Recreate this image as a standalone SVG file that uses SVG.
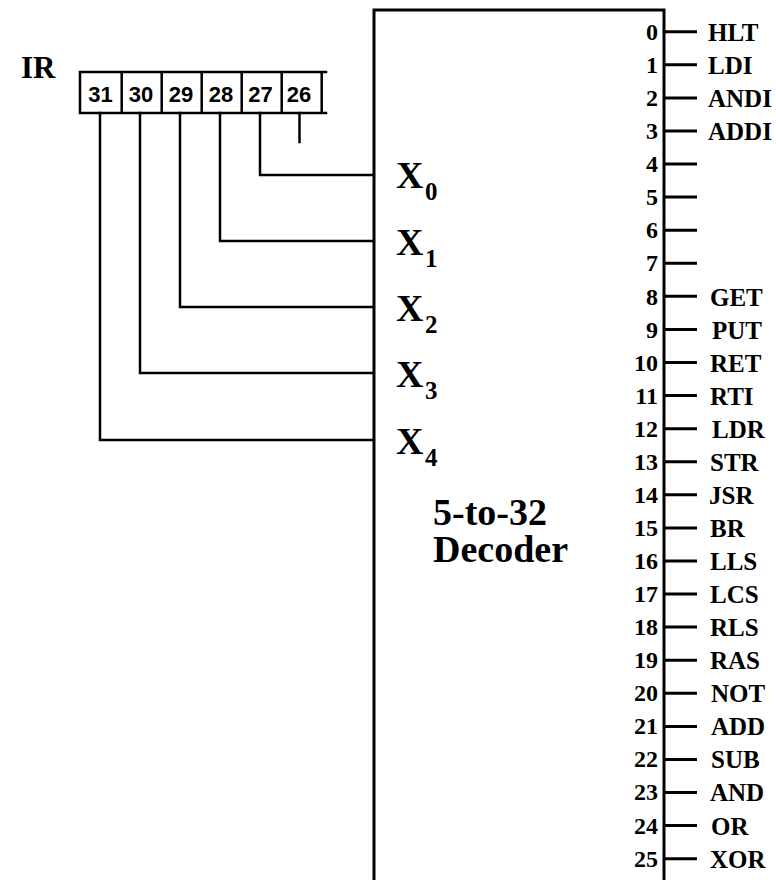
<svg xmlns="http://www.w3.org/2000/svg" width="776" height="880" viewBox="0 0 776 880">
<style>
.serif{font-family:"Liberation Serif","Times New Roman",serif;font-weight:bold;fill:#000}
.sans{font-family:"Liberation Sans",Arial,sans-serif;fill:#000}
.ln{stroke:#000;stroke-width:2.5;fill:none;stroke-linecap:square}
.bx{stroke:#000;stroke-width:3;fill:none}
.tk{stroke:#000;stroke-width:3}
.num{font-size:24px;text-anchor:end}
.lbl{font-size:25px}
.xl{font-size:38px}
.xs{font-size:25px}
.bit{font-size:22px;text-anchor:middle;font-weight:bold}
</style>
<rect width="776" height="880" fill="#fff"/>
<g id="ir">
  <text class="serif" x="21" y="78" font-size="31">IR</text>
  <path class="ln" d="M80,72 H326 M80,113 H326 M80,72 V113 M121.7,72 V113 M161.7,72 V113 M201.7,72 V113 M241.7,72 V113 M281.7,72 V113 M321.7,72 V113" stroke-linecap="butt"/>
  <text class="sans bit" x="100.5" y="101.5">31</text>
  <text class="sans bit" x="141" y="101.5">30</text>
  <text class="sans bit" x="181" y="101.5">29</text>
  <text class="sans bit" x="221" y="101.5">28</text>
  <text class="sans bit" x="260.5" y="101.5">27</text>
  <text class="sans bit" x="299" y="101.5">26</text>
</g>
<g id="connectors">
  <path class="ln" d="M260,113 V175 H373"/>
  <path class="ln" d="M220,113 V241 H373"/>
  <path class="ln" d="M180,113 V307 H373"/>
  <path class="ln" d="M140,113 V373 H373"/>
  <path class="ln" d="M100,113 V440 H373"/>
  <path class="ln" d="M299.5,113 V142"/>
</g>
<g id="decoder">
  <rect class="bx" x="374" y="10" width="290" height="900"/>
  <text class="serif xl" x="396" y="188">X</text><text class="serif xs" x="425" y="200">0</text>
  <text class="serif xl" x="396" y="255">X</text><text class="serif xs" x="425" y="267">1</text>
  <text class="serif xl" x="396" y="321">X</text><text class="serif xs" x="425" y="333">2</text>
  <text class="serif xl" x="396" y="387">X</text><text class="serif xs" x="425" y="399">3</text>
  <text class="serif xl" x="396" y="454">X</text><text class="serif xs" x="425" y="466">4</text>
  <text class="serif" x="433" y="525" font-size="38">5-to-32</text>
  <text class="serif" x="433" y="562" font-size="38">Decoder</text>
</g>
<g id="outputs">
  <path class="tk" d="M664,31.7 H697 M664,64.8 H697 M664,97.9 H697 M664,130.9 H697 M664,164 H697 M664,197.1 H697 M664,230.2 H697 M664,263.3 H697 M664,296.3 H697 M664,329.4 H697 M664,362.5 H697 M664,395.6 H697 M664,428.7 H697 M664,461.7 H697 M664,494.8 H697 M664,527.9 H697 M664,561 H697 M664,594 H697 M664,627.1 H697 M664,660.2 H697 M664,693.3 H697 M664,726.4 H697 M664,759.4 H697 M664,792.5 H697 M664,825.6 H697 M664,858.7 H697"/>
  <g class="serif num">
    <text x="658" y="40">0</text><text x="658" y="73">1</text><text x="658" y="106">2</text><text x="658" y="139">3</text>
    <text x="658" y="172">4</text><text x="658" y="205">5</text><text x="658" y="238">6</text><text x="658" y="271">7</text>
    <text x="658" y="305">8</text><text x="658" y="338">9</text><text x="658" y="371">10</text><text x="658" y="404">11</text>
    <text x="658" y="437">12</text><text x="658" y="470">13</text><text x="658" y="503">14</text><text x="658" y="536">15</text>
    <text x="658" y="569">16</text><text x="658" y="602">17</text><text x="658" y="635">18</text><text x="658" y="668">19</text>
    <text x="658" y="701">20</text><text x="658" y="734">21</text><text x="658" y="767">22</text><text x="658" y="800">23</text>
    <text x="658" y="834">24</text><text x="658" y="867">25</text>
  </g>
  <g class="serif lbl">
    <text x="708" y="41">HLT</text><text x="708" y="74">LDI</text><text x="708" y="107">ANDI</text><text x="708" y="140">ADDI</text>
    <text x="710" y="306">GET</text><text x="712" y="339">PUT</text><text x="710" y="372">RET</text><text x="710" y="405">RTI</text>
    <text x="712" y="438">LDR</text><text x="710" y="471">STR</text><text x="709" y="504">JSR</text><text x="710" y="537">BR</text>
    <text x="710" y="570">LLS</text><text x="710" y="603">LCS</text><text x="710" y="636">RLS</text><text x="710" y="669">RAS</text>
    <text x="711" y="702">NOT</text><text x="711" y="735">ADD</text><text x="711" y="768">SUB</text><text x="710" y="801">AND</text>
    <text x="711" y="835">OR</text><text x="710" y="868">XOR</text>
  </g>
</g>
</svg>
